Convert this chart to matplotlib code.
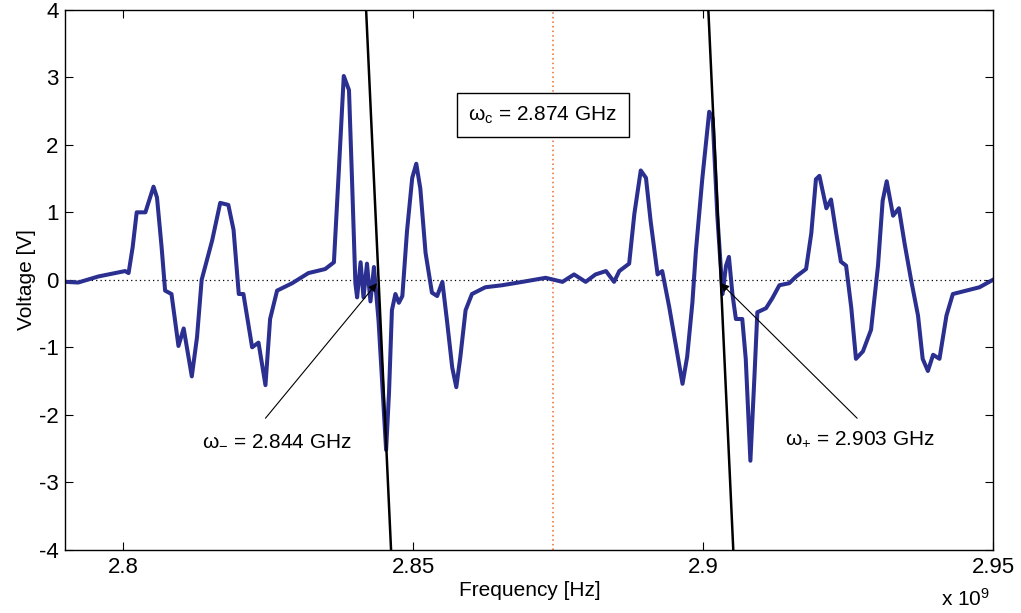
import numpy as np
import matplotlib.pyplot as plt
from matplotlib.ticker import FuncFormatter

plt.rcParams['font.family'] = ['Liberation Sans', 'DejaVu Sans']
plt.rcParams['mathtext.default'] = 'regular'
plt.rcParams['axes.unicode_minus'] = False

# measured signal (frequency in GHz, voltage in V)
freq_ghz = [2.7900, 2.7922, 2.7957, 2.8003, 2.8009, 2.8016, 2.8023, 2.8038, 2.8052, 2.8058,
            2.8066, 2.8072, 2.8083, 2.8095, 2.8104, 2.8118, 2.8127, 2.8135, 2.8153, 2.8167,
            2.8181, 2.8190, 2.8199, 2.8207, 2.8222, 2.8233, 2.8245, 2.8253, 2.8265, 2.8291,
            2.8319, 2.8348, 2.8363, 2.8371, 2.8380, 2.8389, 2.8394, 2.8400, 2.8403, 2.8409,
            2.8414, 2.8420, 2.8426, 2.8432, 2.8440, 2.8449, 2.8453, 2.8458, 2.8463, 2.8469,
            2.8475, 2.8481, 2.8489, 2.8498, 2.8505, 2.8512, 2.8521, 2.8532, 2.8541, 2.8550,
            2.8558, 2.8567, 2.8574, 2.8581, 2.8590, 2.8601, 2.8624, 2.8653, 2.8688, 2.8728,
            2.8757, 2.8777, 2.8797, 2.8814, 2.8832, 2.8846, 2.8855, 2.8872, 2.8881, 2.8892,
            2.8901, 2.8909, 2.8921, 2.8929, 2.8941, 2.8955, 2.8964, 2.8972, 2.8981, 2.8987,
            2.8998, 2.9010, 2.9016, 2.9024, 2.9033, 2.9039, 2.9044, 2.9050, 2.9056, 2.9067,
            2.9073, 2.9081, 2.9088, 2.9093, 2.9108, 2.9119, 2.9131, 2.9148, 2.9160, 2.9177,
            2.9186, 2.9194, 2.9200, 2.9212, 2.9220, 2.9229, 2.9237, 2.9246, 2.9255, 2.9263,
            2.9275, 2.9289, 2.9301, 2.9309, 2.9316, 2.9327, 2.9337, 2.9347, 2.9358, 2.9370,
            2.9378, 2.9387, 2.9396, 2.9407, 2.9419, 2.9430, 2.9453, 2.9476, 2.9499]
voltage = [-0.03, -0.04, 0.05, 0.13, 0.10, 0.48, 1.00, 1.00, 1.38, 1.22,
           0.48, -0.16, -0.21, -0.98, -0.72, -1.43, -0.85, 0.00, 0.58, 1.14,
           1.11, 0.74, -0.21, -0.21, -1.00, -0.93, -1.56, -0.58, -0.16, -0.05,
           0.10, 0.16, 0.26, 1.54, 3.02, 2.81, 1.54, -0.05, -0.26, 0.26,
           -0.26, 0.24, -0.32, 0.19, -0.61, -1.93, -2.52, -1.67, -0.45, -0.21,
           -0.34, -0.24, 0.72, 1.51, 1.72, 1.35, 0.40, -0.19, -0.24, -0.03,
           -0.61, -1.30, -1.59, -1.14, -0.45, -0.21, -0.11, -0.08, -0.03, 0.03,
           -0.03, 0.08, -0.03, 0.08, 0.13, -0.03, 0.13, 0.24, 0.98, 1.62,
           1.51, 0.87, 0.08, 0.13, -0.40, -1.09, -1.54, -1.14, -0.34, 0.42,
           1.49, 2.49, 2.39, 0.95, -0.21, 0.21, 0.34, -0.21, -0.58, -0.58,
           -1.17, -2.68, -1.43, -0.48, -0.42, -0.27, -0.08, -0.05, 0.05, 0.16,
           0.69, 1.49, 1.54, 1.06, 1.19, 0.69, 0.27, 0.21, -0.42, -1.17,
           -1.06, -0.74, 0.21, 1.17, 1.46, 0.95, 1.06, 0.53, 0.00, -0.53,
           -1.17, -1.35, -1.11, -1.17, -0.53, -0.21, -0.16, -0.11, 0.00]

# linear fits at the zero crossings
w_minus = 2.844
w_plus = 2.903
w_center = 2.874
fit_slope = -8.0 / 0.0043  # V per GHz

f = np.array(freq_ghz) * 1e9
v = np.array(voltage)

fig = plt.figure(figsize=(10.21, 6.13), dpi=100)
ax = fig.add_axes([0.064, 0.103, 0.909, 0.881])

ax.axhline(0, color='black', linestyle=(0, (1, 2.5)), linewidth=0.9)
ax.axvline(w_center * 1e9, color='#ee6a2c', linestyle=(0, (1, 2)), linewidth=1.1)

ax.plot(f, v, color='#2a2f90', linewidth=2.9, solid_joinstyle='round')

for w0 in [w_minus, w_plus]:
    fx = np.array([w0 - 0.004, w0 + 0.004])
    ax.plot(fx * 1e9, fit_slope * (fx - w0), color='black', linewidth=1.8)

ax.set_xlim(2.79e9, 2.95e9)
ax.set_ylim(-4, 4)
ax.set_xticks([2.8e9, 2.85e9, 2.9e9, 2.95e9])
ax.set_yticks(range(-4, 5))
ax.xaxis.set_major_formatter(FuncFormatter(lambda x, p: '%g' % (x / 1e9)))
ax.tick_params(direction='in', top=True, right=True, length=6, labelsize=16, pad=5)
for s in ax.spines.values():
    s.set_linewidth(1.0)

ax.set_xlabel('Frequency [Hz]', fontsize=15, labelpad=2)
ax.set_ylabel('Voltage [V]', fontsize=15, labelpad=2)
fig.text(0.922, 0.012, r'x 10$^9$', fontsize=15)

ax.text(2.8723e9, 2.44, 'ω$_c$ = 2.874 GHz', fontsize=15, ha='center', va='center',
        bbox=dict(boxstyle='square,pad=0.55', facecolor='white', edgecolor='black', linewidth=1))

arrow = dict(arrowstyle='-|>', color='black', linewidth=0.8, mutation_scale=12, shrinkA=0, shrinkB=0)
ax.annotate('', xy=(2.8437e9, -0.05), xytext=(2.8245e9, -2.05), arrowprops=arrow)
ax.annotate('', xy=(2.9030e9, -0.05), xytext=(2.9265e9, -2.05), arrowprops=arrow)
ax.text(2.8265e9, -2.37, 'ω$_{-}$ = 2.844 GHz', fontsize=15, ha='center', va='center')
ax.text(2.9270e9, -2.37, 'ω$_{+}$ = 2.903 GHz', fontsize=15, ha='center', va='center')

fig.savefig('out.png', dpi=100)
